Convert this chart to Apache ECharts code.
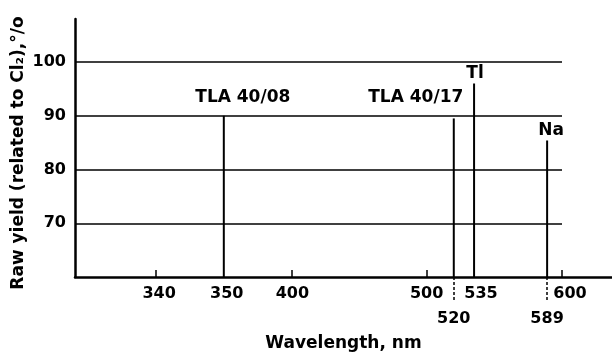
<!DOCTYPE html>
<html><head><meta charset="utf-8">
<script src="https://cdn.jsdelivr.net/npm/echarts@6/dist/echarts.min.js"></script>
<style>html,body{margin:0;padding:0;background:#fff}#c{width:612px;height:353px}</style>
</head><body><div id="c"></div>
<script>
// Peaks: wavelength (nm) and raw yield (%)
const wavelengths = [350, 520, 535, 589];
const yields = [90, 89.5, 96, 85.4];
const peakNames = ['TLA 40/08', 'TLA 40/17', 'Tl', 'Na'];
// y tick labels
const yTicks = [70, 80, 90, 100];
// x tick labels (upper row). The source axis is broken: its "340" mark sits
// where 300 falls on the linear scale used for the rest of the axis.
const xTickValues = [300, 350, 400, 500, 535, 600];
const xTickLabels = ['340', '350', '400', '500', '535', '600'];
const xTickMarks = [300, 400, 500, 600];
// x tick labels (lower row, with dotted leaders)
const xLowerValues = [520, 589];
const xLowerLabels = ['520', '589'];

const font = 'DejaVu Sans';
const fs = 17;   // words
const fn = 16;   // numbers
const shift = {'340': 6, '350': 6, '400': 2, '500': 0, '535': 14, '600': 16};
const labelOffsets = [[19, -10], [-38, -12], [1, -1], [4, -1]];

const rich = {};
Object.keys(shift).forEach(k => {
  rich['s' + k] = {padding: [0, 0, 0, shift[k]], fontSize: fn, fontWeight: 'bold', fontFamily: font, color: '#000'};
});

const chart = echarts.init(document.getElementById('c'), null, {renderer: 'canvas'});
chart.setOption({
  animation: false,
  backgroundColor: '#fff',
  textStyle: {fontFamily: font, color: '#000'},
  grid: [
    {left: 75, right: 50, top: 19, bottom: 76, containLabel: false, outerBoundsMode: 'none'},
    {left: 75, right: 0, top: 19, bottom: 76, containLabel: false, outerBoundsMode: 'none'}
  ],
  xAxis: [
    {gridIndex: 0, type: 'value', min: 240, max: 600, show: false},
    {
      gridIndex: 1, type: 'value', min: 240, max: 637, position: 'bottom',
      axisLine: {show: true, lineStyle: {color: '#000', width: 2.5}},
      axisTick: {show: true, inside: true, length: 7, customValues: xTickMarks, lineStyle: {color: '#000', width: 1.5}},
      axisLabel: {
        customValues: xTickValues, margin: 9, fontSize: fn, fontWeight: 'bold', fontFamily: font, color: '#000',
        formatter: v => { const t = xTickLabels[xTickValues.indexOf(v)]; return '{s' + t + '|' + t + '}'; },
        rich: rich
      },
      splitLine: {show: false},
      name: 'Wavelength, nm', nameLocation: 'middle', nameGap: 58,
      nameTextStyle: {fontSize: fs, fontWeight: 'bold', fontFamily: font, color: '#000'}
    },
    {
      gridIndex: 1, type: 'value', min: 240, max: 637, position: 'bottom',
      axisLine: {show: false},
      axisTick: {show: true, inside: false, length: 25, customValues: xLowerValues, lineStyle: {color: '#000', width: 1.5, type: [3, 2]}},
      axisLabel: {
        customValues: xLowerValues, margin: 34, fontSize: fn, fontWeight: 'bold', fontFamily: font, color: '#000',
        formatter: v => xLowerLabels[xLowerValues.indexOf(v)]
      },
      splitLine: {show: false}
    }
  ],
  yAxis: [
    {
      gridIndex: 0, type: 'value', min: 60, max: 108, interval: 10,
      axisLine: {show: true, lineStyle: {color: '#000', width: 2.5}},
      axisTick: {show: false},
      axisLabel: {customValues: yTicks, margin: 9, fontSize: fn, fontWeight: 'bold', fontFamily: font, color: '#000'},
      splitLine: {show: true, showMinLine: false, showMaxLine: false, lineStyle: {color: '#000', width: 1.5}},
      name: 'Raw yield (related to Cl\u2082),\u00b0/o', nameLocation: 'middle', nameRotate: 90, nameGap: 48,
      nameMoveOverlap: false,
      nameTextStyle: {fontSize: fs, fontWeight: 'bold', fontFamily: font, color: '#000', padding: [0, 10, 0, 0]}
    },
    {gridIndex: 1, type: 'value', min: 60, max: 108, show: false}
  ],
  series: [{
    type: 'bar', xAxisIndex: 0, yAxisIndex: 0, barWidth: 2,
    itemStyle: {color: '#000'},
    data: wavelengths.map((w, i) => ({
      value: [w, yields[i]],
      label: {formatter: peakNames[i], offset: labelOffsets[i]}
    })),
    label: {show: true, position: 'top', distance: 0, fontSize: fs, fontWeight: 'bold', fontFamily: font, color: '#000'}
  }]
});
</script>
</body></html>
